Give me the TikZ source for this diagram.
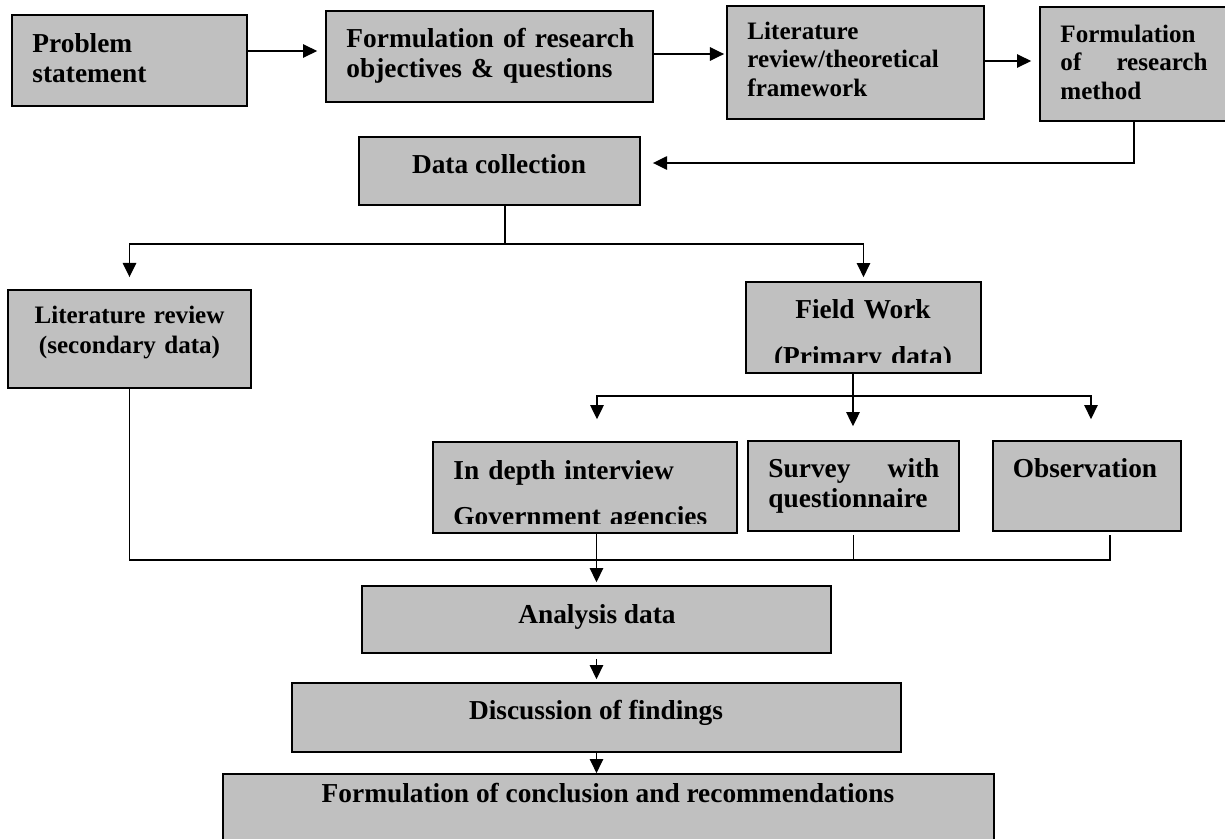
\documentclass[tikz,border=0pt]{standalone}
\usepackage{fontspec}
\setmainfont{Liberation Serif}
\usetikzlibrary{arrows.meta,calc,fit}
\definecolor{boxgray}{HTML}{C0C0C0}
\newcommand{\bigtxt}{\fontsize{12pt}{13.2pt}\selectfont\bfseries}
\newcommand{\smltxt}{\fontsize{11pt}{12.7pt}\selectfont\bfseries}
\tikzset{
  bx/.style={draw=black, line width=0.75pt, fill=boxgray, inner sep=0pt},
  txt/.style={inner sep=0pt, font=\bigtxt, align=left},
  stxt/.style={txt, font=\smltxt},
  ctxt/.style={txt, align=center, anchor=base},
  ln/.style={line width=0.6pt, color=black},
  arr/.style={ln, -{Triangle[length=6.2pt, width=5.9pt]}},
}

\begin{document}
\begin{tikzpicture}[x=0.4386pt, y=-0.4386pt]
  \useasboundingbox (0,0) rectangle (1225,839);
  % boxes, corners in pixels
  \foreach \nm/\xa/\ya/\xb/\yb in {
    prob/12/15/247/106, obj/326/11/653/102, litfw/727/6/984/119, meth/1040/7/1228/121,
    dcol/359/137/640/205, litsec/8/290/251/388, field/746/282/981/373,
    intv/433/442/737/533, surv/748/441/959/531, obs/993/441/1181/531,
    ana/362/586/831/653, disc/292/683/901/752, concl/223/774/994/860}
  {
    \node[bx, fit={(\xa,\ya) (\xb,\yb)}] (\nm) {};
  }
  % texts
  \node[txt, anchor=base west, text width=100pt] (probt) at (32,52) {Problem\\statement};
  \node[txt, anchor=base west, text width=140pt] (objt) at (346,47) {Formulation of research\\objectives \& questions};
  \node[stxt, anchor=base west, text width=100pt] (litfwt) at (747,39) {Literature\\review/theoretical\\framework};
  \node[stxt, anchor=base west, text width=64.5pt] (metht) at (1060,42) {Formulation\\of\hfill research\\method};
  \node[ctxt] (dcolt) at (499,173) {Data collection};
  \node[ctxt, font=\smltxt, text width=100pt] (litsect) at (129.5,323) {Literature review\\[0.5pt](secondary data)};
  \begin{scope}
    \clip (field.north west) rectangle ($(field.south east)+(0,-11)$);
    \node[ctxt, text width=100pt] (fieldt) at (863,318) {Field Work\\[7.85pt](Primary data)};
  \end{scope}
  \begin{scope}
    \clip (intv.north west) rectangle ($(intv.south east)+(0,-10)$);
    \node[txt, anchor=base west, text width=130pt] (intvt) at (453,479) {In depth interview\\[7.4pt]Government agencies};
  \end{scope}
  \node[txt, anchor=base west, text width=75pt] (survt) at (768,477) {Survey\hfill with\\questionnaire};
  \node[ctxt] (obst) at (1085,477) {Observation};
  \node[ctxt] (anat) at (597,623) {Analysis data};
  \node[ctxt] (disct) at (596,719) {Discussion of findings};
  \node[ctxt] (conclt) at (608,802) {Formulation of conclusion and recommendations};
  % top row
  \coordinate (a1) at ($(prob.east)+(0,-9.5)$);
  \coordinate (a2) at ($(obj.east)+(0,-2.5)$);
  \coordinate (a3) at ($(litfw.east)+(0,-1.5)$);
  \draw[arr, shorten >=3.5pt] (a1) -- (a1 -| obj.west);
  \draw[arr, shorten >=0.9pt] (a2) -- (a2 -| litfw.west);
  \draw[arr, shorten >=3.5pt] (a3) -- (a3 -| meth.west);
  \draw[arr, shorten >=5.3pt] (meth.south) |- ($(dcol.east)+(0,-8)$);
  % data collection split
  \coordinate (dsplit) at ($(dcol.south)+(5.5,38)$);
  \draw[ln] (dsplit |- dcol.south) -- (dsplit);
  \draw[arr, shorten >=5.3pt] (dsplit) -| (litsec.north);
  \draw[arr, shorten >=1.75pt] (dsplit) -| (field.north);
  % field work split
  \coordinate (fsplit) at ($(field.south)+(-10.5,22)$);
  \draw[ln] (fsplit |- field.south) -- (fsplit);
  \draw[arr, shorten >=9.6pt] (fsplit) -| ($(intv.north)+(12,0)$);
  \draw[arr, shorten >=6.1pt] (fsplit) -- (fsplit |- surv.north);
  \draw[arr, shorten >=9.2pt] (fsplit) -| ($(obs.north)+(4,0)$);
  % merge and final chain
  \coordinate (mjoin) at ($(obs.south)+(23,28)$);
  \draw[ln] (litsec.south) |- (mjoin) -- ++(0,-25);
  \draw[ln] ([yshift=-1.3pt]surv.south) -- (surv.south |- mjoin);
  \draw[arr, shorten >=1.3pt] (ana.north |- intv.south) -- (ana.north);
  \draw[arr, shorten <=2.2pt, shorten >=1.3pt] (ana.south) -- (disc.north);
  \draw[arr] (disc.south) -- (disc.south |- concl.north);
\end{tikzpicture}
\end{document}
